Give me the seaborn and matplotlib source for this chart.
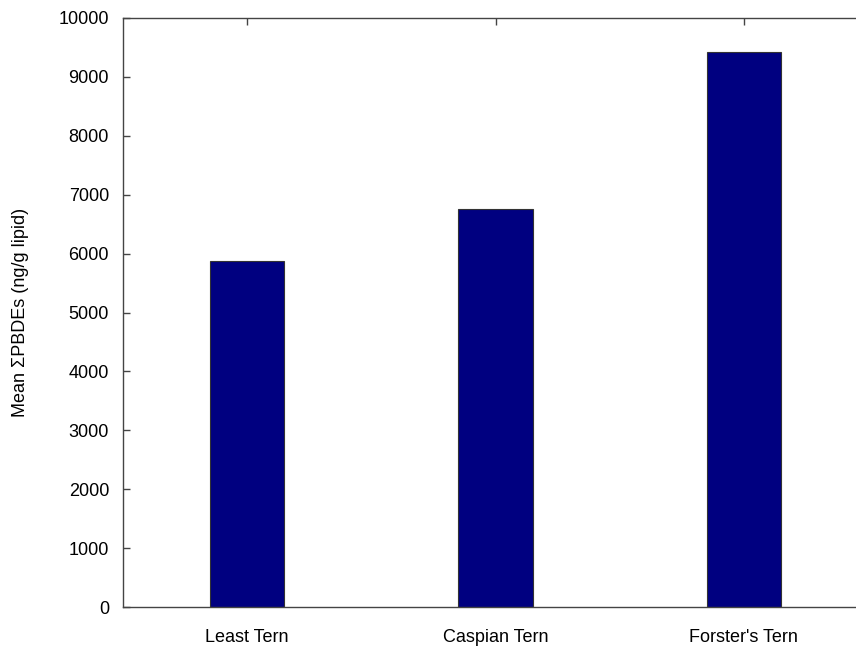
import matplotlib
matplotlib.use("Agg")
import matplotlib.pyplot as plt
import seaborn as sns
import pandas as pd

species = ["Least Tern", "Caspian Tern", "Forster's Tern"]
mean_pbde = [5870, 6760, 9420]
y_ticks = [0, 1000, 2000, 3000, 4000, 5000, 6000, 7000, 8000, 9000, 10000]

df = pd.DataFrame({"species": species, "pbde": mean_pbde})

sns.set_style("white")
plt.rcParams["font.family"] = ["Liberation Sans", "DejaVu Sans"]

fig = plt.figure(figsize=(8.56, 6.46), dpi=100)
ax = fig.add_axes([123 / 856, 39 / 646, 745 / 856, 589 / 646])

sns.barplot(
    data=df,
    x="species",
    y="pbde",
    color="#000080",
    saturation=1,
    width=0.3,
    edgecolor="#333333",
    linewidth=0.8,
    ax=ax,
)

ax.set_xlim(-0.5, 2.5)
ax.set_ylim(0, 10000)
ax.set_yticks(y_ticks)
ax.set_xlabel("")
ax.set_ylabel("Mean \u03a3PBDEs (ng/g lipid)", fontsize=13, labelpad=21, color="black")

for side in ["top", "bottom", "left", "right"]:
    ax.spines[side].set_visible(True)
    ax.spines[side].set_color("#444444")
    ax.spines[side].set_linewidth(1.0)

ax.tick_params(axis="y", direction="in", length=5, width=1, color="#444444",
               labelsize=13, pad=10, left=True, right=True, labelcolor="black")
ax.tick_params(axis="x", direction="in", length=0, labelsize=13, pad=16,
               labelcolor="black")
secax = ax.secondary_xaxis("top")
secax.set_xticks([0, 1, 2])
secax.set_xticklabels([])
secax.tick_params(direction="in", length=5, width=1, color="#444444")
secax.spines["top"].set_visible(False)

fig.savefig("out.png", dpi=100)
